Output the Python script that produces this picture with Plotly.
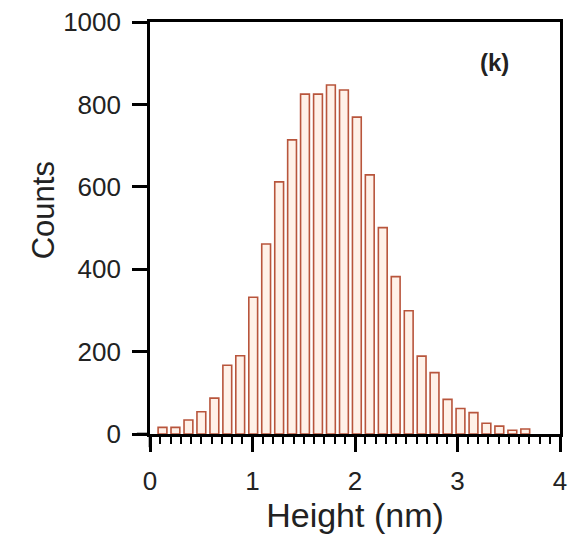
import plotly.graph_objects as go

# Bin centres (nm) and counts
bin_centers = [0.122, 0.248, 0.375, 0.501, 0.628, 0.754, 0.880, 1.007, 1.133, 1.260,
               1.386, 1.512, 1.639, 1.765, 1.892, 2.018, 2.144, 2.271, 2.397, 2.524,
               2.650, 2.776, 2.903, 3.029, 3.156, 3.282, 3.408, 3.535, 3.661]
counts = [16, 16, 34, 54, 87, 167, 190, 332, 461, 612,
          714, 825, 825, 847, 835, 769, 629, 501, 382, 299,
          189, 149, 84, 62, 52, 26, 19, 9, 12]
x_ticks = [0, 1, 2, 3, 4]
y_ticks = [0, 200, 400, 600, 800, 1000]

FONT = "Liberation Sans, Arial, sans-serif"

fig = go.Figure()
fig.add_trace(go.Bar(
    x=bin_centers, y=counts, width=0.086,
    marker=dict(color="#fff1e8", line=dict(color="#b8553c", width=1.6)),
    showlegend=False,
))

axis_common = dict(
    showline=True, linecolor="black", linewidth=2.6, mirror=True,
    ticks="outside", ticklen=15, tickwidth=2.6, tickcolor="black",
    showgrid=False, zeroline=False, automargin=False,
    ticklabeloverflow="allow",
    tickfont=dict(family=FONT, size=26, color="#222"),
)

# the page body has an 8px margin, so the figure is sized/offset to compensate
fig.update_layout(
    width=561, height=526,
    margin=dict(l=142, r=9, t=14, b=100, autoexpand=False),
    paper_bgcolor="white", plot_bgcolor="white",
    xaxis=dict(range=[0, 4], tickvals=x_ticks, ticklabelstandoff=7,
               minor=dict(dtick=0.1, ticks="outside", ticklen=7, tickwidth=2, tickcolor="black"),
               title=dict(text="Height (nm)", font=dict(family=FONT, size=34, color="#222"), standoff=6),
               **axis_common),
    yaxis=dict(range=[0, 1000], tickvals=y_ticks, ticklabelstandoff=6, **axis_common),
    annotations=[
        dict(text="Counts", textangle=-90, xref="paper", yref="paper",
             x=-0.26, y=0.544, xanchor="center", yanchor="middle", showarrow=False,
             font=dict(family=FONT, size=31, color="#222")),
        dict(text="<b>(k)</b>", xref="paper", yref="paper",
             x=0.84, y=0.902, xanchor="center", yanchor="middle", showarrow=False,
             font=dict(family=FONT, size=24, color="#222")),
    ],
    shapes=[
        dict(type="line", xref="x domain", yref="y domain", x0=0, x1=0, y0=-0.032, y1=0,
             line=dict(color="black", width=2.6)),
        dict(type="line", xref="x domain", yref="y domain", x0=-0.032, x1=0, y0=0, y1=0,
             line=dict(color="black", width=2.6)),
    ],
)

fig.write_html("out.html")
